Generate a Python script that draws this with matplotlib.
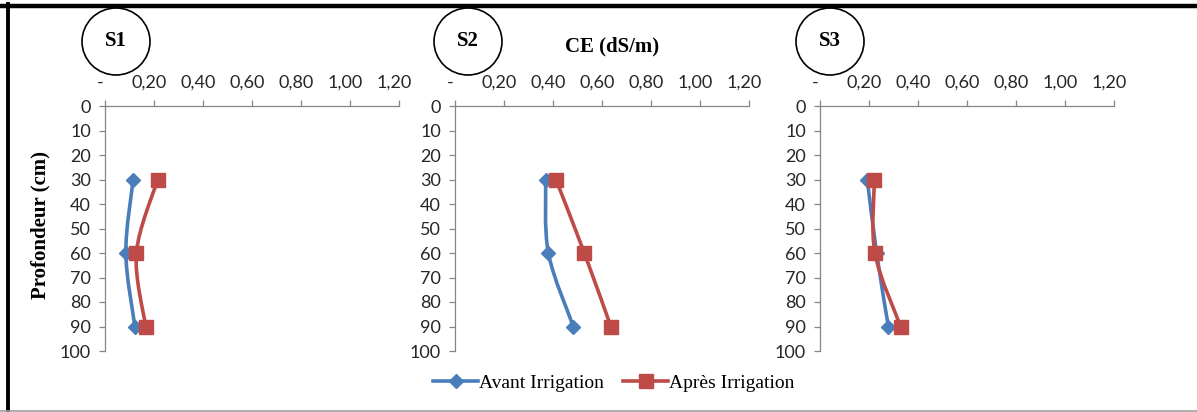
import numpy as np
import matplotlib.pyplot as plt
import matplotlib.transforms as mtransforms
from matplotlib.path import Path
from matplotlib.patches import PathPatch, Ellipse
from matplotlib.lines import Line2D

# data
depth = [30, 60, 90]
sites = ["S1", "S2", "S3"]
avant = {"S1": [0.115, 0.085, 0.122],
         "S2": [0.370, 0.381, 0.483],
         "S3": [0.193, 0.231, 0.279]}
apres = {"S1": [0.215, 0.128, 0.166],
         "S2": [0.412, 0.528, 0.636],
         "S3": [0.222, 0.224, 0.329]}
x_ticks = [0, 0.2, 0.4, 0.6, 0.8, 1.0, 1.2]
x_labels = ["-", "0,20", "0,40", "0,60", "0,80", "1,00", "1,20"]
y_ticks = list(range(0, 101, 10))

BLUE = "#4A7EBB"
RED = "#BE4B48"
GRAY = "#868686"

W, H = 1197, 412


def smooth_path(xs, ys):
    # Excel-like smoothed line: cubic bezier through the points
    pts = np.column_stack([xs, ys])
    n = len(pts)
    verts = [pts[0]]
    codes = [Path.MOVETO]
    for i in range(n - 1):
        p0 = pts[max(i - 1, 0)]
        p1 = pts[i]
        p2 = pts[i + 1]
        p3 = pts[min(i + 2, n - 1)]
        c1 = p1 + (p2 - p0) / 6
        c2 = p2 - (p3 - p1) / 6
        verts += [c1, c2, p2]
        codes += [Path.CURVE4] * 3
    return Path(verts, codes)


fig = plt.figure(figsize=(W / 100, H / 100), dpi=100)
shift = mtransforms.ScaledTranslation(-5 / 100, 0, fig.dpi_scale_trans)

lefts = [105, 455, 820]
for site, left in zip(sites, lefts):
    ax = fig.add_axes([left / W, (H - 351) / H, 294 / W, 245 / H])
    ax.set_xlim(0, 1.2)
    ax.set_ylim(100, 0)
    for vals, col, mk, ms in [(avant[site], BLUE, "D", 7), (apres[site], RED, "s", 10)]:
        ax.add_patch(PathPatch(smooth_path(vals, depth), fill=False,
                               edgecolor=col, lw=2.6, capstyle="round"))
        ax.plot(vals, depth, linestyle="none", marker=mk, ms=ms,
                color=col, mec=col)
    ax.xaxis.tick_top()
    ax.set_xticks(x_ticks)
    ax.set_xticklabels(x_labels)
    ax.set_yticks(y_ticks)
    for s in ["bottom", "right"]:
        ax.spines[s].set_visible(False)
    for s in ["top", "left"]:
        ax.spines[s].set_color(GRAY)
        ax.spines[s].set_linewidth(0.9)
    ax.tick_params(axis="both", colors=GRAY, length=4, width=0.9,
                   labelcolor="#262626", labelsize=13)
    ax.tick_params(axis="x", pad=7)
    ax.tick_params(axis="y", pad=6)
    for lab in ax.get_xticklabels() + ax.get_yticklabels():
        lab.set_fontfamily("Lato")
    for lab in ax.get_xticklabels():
        lab.set_transform(lab.get_transform() + shift)

# circled site labels
circles = [(116, 41.5), (468, 41.5), (830, 41.5)]
for site, (cx, cy) in zip(sites, circles):
    fig.add_artist(Ellipse((cx / W, (H - cy) / H), 68 / W, 67 / H,
                           transform=fig.transFigure, fill=False,
                           edgecolor="black", lw=1.2))
    fig.text(cx / W, (H - cy) / H, site, ha="center", va="center",
             family="Liberation Serif", weight="bold", fontsize=15)

fig.text(612 / W, (H - 46) / H, "CE (dS/m)", ha="center", va="center",
         family="Liberation Serif", weight="bold", fontsize=15)
fig.text(40 / W, (H - 225) / H, "Profondeur (cm)", ha="center", va="center",
         rotation=90, family="Liberation Serif", weight="bold", fontsize=15)

handles = [Line2D([], [], color=BLUE, lw=2.6, marker="D", ms=7),
           Line2D([], [], color=RED, lw=2.6, marker="s", ms=10)]
fig.legend(handles, ["Avant Irrigation", "Après Irrigation"], ncol=2,
           loc="center", bbox_to_anchor=(614 / W, (H - 383) / H),
           frameon=False, handlelength=2.3, handletextpad=0.05,
           columnspacing=1.0, prop={"family": "Liberation Serif", "size": 14})

# frame
fig.add_artist(Line2D([0, 1], [(H - 5.5) / H] * 2, color="black", lw=3.2,
                      transform=fig.transFigure))
fig.add_artist(Line2D([8 / W] * 2, [0, (H - 4) / H], color="black", lw=2.8,
                      transform=fig.transFigure))
fig.add_artist(Line2D([0, 1], [1.5 / H] * 2, color="#A0A0A0", lw=1.2,
                      transform=fig.transFigure))

fig.savefig("out.png", dpi=100)
